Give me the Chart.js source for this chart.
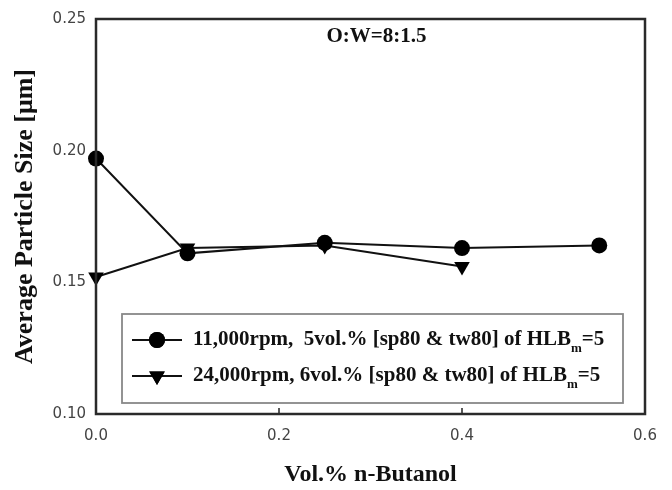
<!DOCTYPE html>
<html>
<head>
<meta charset="utf-8">
<script src="https://cdn.jsdelivr.net/npm/chart.js@4.4.1/dist/chart.umd.min.js"></script>
<style>
  html, body { margin: 0; padding: 0; background: #fff; }
  #wrap { width: 672px; height: 490px; position: relative; }
</style>
</head>
<body>
<div id="wrap"><canvas id="c" width="672" height="490"></canvas></div>
<script>
// ---- data ----
const butanolA = [0.0, 0.1, 0.25, 0.4, 0.55];
const sizeA    = [0.197, 0.161, 0.165, 0.163, 0.164];
const butanolB = [0.0, 0.1, 0.25, 0.4];
const sizeB    = [0.152, 0.163, 0.164, 0.156];
const labelA = ['11,000rpm,  5vol.% [sp80 & tw80] of HLB', 'm', '=5'];
const labelB = ['24,000rpm, 6vol.% [sp80 & tw80] of HLB', 'm', '=5'];
const xTickValues = [0.0, 0.2, 0.4, 0.6];
const yTickValues = [0.10, 0.15, 0.20, 0.25];
const annotationText = 'O:W=8:1.5';
const xTitle = 'Vol.% n-Butanol';
const yTitle = 'Average Particle Size [\u03bcm]';

const toPts = (xs, ys) => xs.map((x, i) => ({ x: x, y: ys[i] }));

const SERIF = '"Liberation Serif", "Times New Roman", serif';
const SANS = '"DejaVu Sans", sans-serif';

const framePlugin = {
  id: 'frame',
  afterDatasetsDraw(chart) {
    const { ctx, chartArea: a, scales } = chart;
    ctx.save();
    // inward x ticks
    ctx.strokeStyle = '#222';
    ctx.lineWidth = 1.5;
    xTickValues.slice(1, -1).forEach(v => {
      const px = scales.x.getPixelForValue(v);
      ctx.beginPath();
      ctx.moveTo(px, a.bottom);
      ctx.lineTo(px, a.bottom - 6);
      ctx.stroke();
    });
    // frame
    ctx.strokeStyle = '#2a2a2a';
    ctx.lineWidth = 2.5;
    ctx.strokeRect(a.left, a.top, a.right - a.left, a.bottom - a.top);

    // annotation
    ctx.fillStyle = '#111';
    ctx.font = 'bold 21px ' + SERIF;
    ctx.textAlign = 'center';
    ctx.textBaseline = 'alphabetic';
    ctx.fillText(annotationText, (a.left + a.right) / 2 + 6, a.top + 23);

    // legend box
    const bx = a.left + 26, by = a.top + 295, bw = 501, bh = 89;
    ctx.fillStyle = '#fff';
    ctx.fillRect(bx, by, bw, bh);
    ctx.strokeStyle = '#888';
    ctx.lineWidth = 1.8;
    ctx.strokeRect(bx, by, bw, bh);

    const rows = [labelA, labelB];
    chart.data.datasets.forEach((ds, i) => {
      const ry = by + 26 + i * 36;
      const lx0 = bx + 10, lx1 = bx + 60, mx = bx + 35;
      ctx.strokeStyle = '#111';
      ctx.lineWidth = 2;
      ctx.beginPath();
      ctx.moveTo(lx0, ry);
      ctx.lineTo(lx1, ry);
      ctx.stroke();
      ctx.fillStyle = '#000';
      Chart.helpers.drawPoint(ctx, {
        pointStyle: ds.pointStyle,
        radius: ds.pointRadius,
        rotation: ds.rotation || 0,
        borderWidth: 0
      }, mx, ry);
      ctx.fill();
      // text with subscript
      const parts = rows[i];
      let tx = bx + 71;
      ctx.textAlign = 'left';
      ctx.textBaseline = 'middle';
      ctx.fillStyle = '#111';
      ctx.font = 'bold 21px ' + SERIF;
      ctx.fillText(parts[0], tx, ry);
      tx += ctx.measureText(parts[0]).width;
      ctx.font = 'bold 13px ' + SERIF;
      ctx.fillText(parts[1], tx, ry + 9);
      tx += ctx.measureText(parts[1]).width;
      ctx.font = 'bold 21px ' + SERIF;
      ctx.fillText(parts[2], tx, ry);
    });
    ctx.restore();
  }
};

new Chart(document.getElementById('c'), {
  type: 'line',
  data: {
    datasets: [
      {
        label: labelA.join(''),
        data: toPts(butanolA, sizeA),
        borderColor: '#111',
        backgroundColor: '#000',
        borderWidth: 2,
        pointStyle: 'circle',
        pointRadius: 8,
        pointBorderWidth: 0,
        pointBackgroundColor: '#000',
        clip: false
      },
      {
        label: labelB.join(''),
        data: toPts(butanolB, sizeB),
        borderColor: '#111',
        backgroundColor: '#000',
        borderWidth: 2,
        pointStyle: 'triangle',
        rotation: 180,
        pointRotation: 180,
        pointRadius: 9,
        pointBorderWidth: 0,
        pointBackgroundColor: '#000',
        clip: false
      }
    ]
  },
  options: {
    responsive: false,
    animation: false,
    layout: { padding: { top: 14, right: 27, left: 0, bottom: 0 } },
    plugins: {
      legend: { display: false },
      tooltip: { enabled: false }
    },
    elements: { line: { tension: 0 } },
    scales: {
      x: {
        type: 'linear',
        min: 0,
        max: 0.6,
        afterFit(s) { s.height = 76; },
        afterBuildTicks(s) { s.ticks = xTickValues.map(v => ({ value: v })); },
        grid: { display: false, drawTicks: false },
        border: { display: false },
        ticks: {
          padding: 13,
          color: '#444',
          font: { family: SANS, size: 15 },
          callback: v => v.toFixed(1),
          maxRotation: 0
        },
        title: {
          display: true,
          text: xTitle,
          color: '#111',
          font: { family: SERIF, size: 24, weight: 'bold' },
          padding: { top: 0, bottom: 1 }
        }
      },
      y: {
        type: 'linear',
        min: 0.10,
        max: 0.25,
        afterFit(s) { s.width = 96; },
        afterBuildTicks(s) { s.ticks = yTickValues.map(v => ({ value: v })); },
        grid: { display: false, drawTicks: false },
        border: { display: false },
        ticks: {
          padding: 10,
          color: '#444',
          font: { family: SANS, size: 15 },
          callback: v => v.toFixed(2)
        },
        title: {
          display: true,
          text: yTitle,
          color: '#111',
          font: { family: SERIF, size: 26, weight: 'bold' },
          padding: { top: 10, bottom: 0 }
        }
      }
    }
  },
  plugins: [framePlugin]
});
</script>
</body>
</html>
